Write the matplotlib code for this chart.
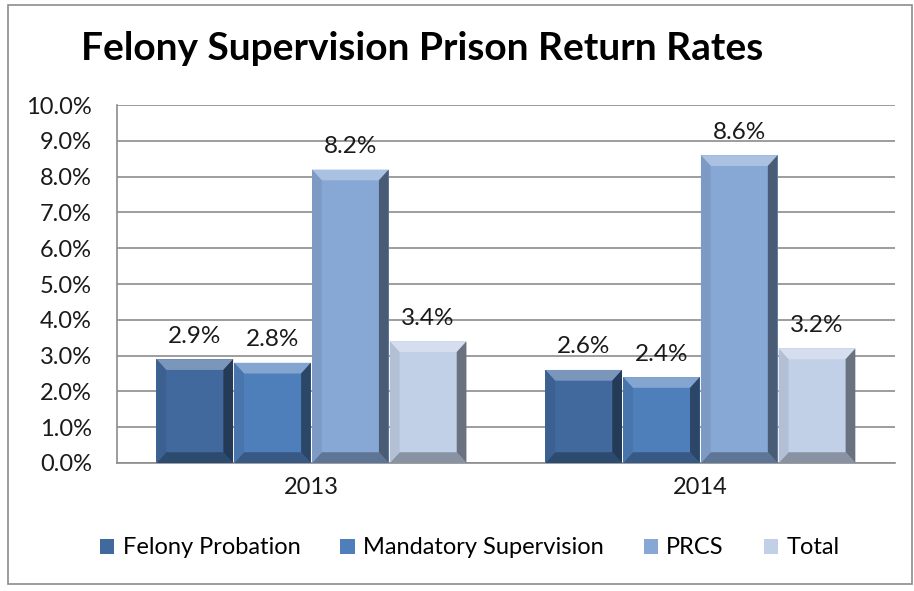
import numpy as np
import matplotlib
matplotlib.use("Agg")
import matplotlib.pyplot as plt
from matplotlib.patches import Polygon, Rectangle
from matplotlib.ticker import PercentFormatter

# ------------------------------------------------------------------
# Data
# ------------------------------------------------------------------
years = ["2013", "2014"]
series = ["Felony Probation", "Mandatory Supervision", "PRCS", "Total"]
felony_probation = [2.9, 2.6]
mandatory_supervision = [2.8, 2.4]
prcs = [8.2, 8.6]
total = [3.4, 3.2]
values = [felony_probation, mandatory_supervision, prcs, total]

colors = ["#41699E", "#4E7FBB", "#87A7D5", "#C2D0E7"]

plt.rcParams["font.family"] = ["Lato", "DejaVu Sans"]


def _shade(c, f):
    rgb = np.array(matplotlib.colors.to_rgb(c))
    if f > 0:
        rgb = rgb + (1 - rgb) * f
    else:
        rgb = rgb * (1 + f)
    return tuple(np.clip(rgb, 0, 1))


def _bevel(ax, rect, color, bx=0.025, by=0.3):
    """Draw a simple bevel on a bar rectangle (data coordinates)."""
    x0, y0 = rect.get_x(), rect.get_y()
    x1, y1 = x0 + rect.get_width(), y0 + rect.get_height()
    ix0, ix1, iy0, iy1 = x0 + bx, x1 - bx, y0 + by, y1 - by
    faces = [
        ([(x0, y1), (x1, y1), (ix1, iy1), (ix0, iy1)], _shade(color, 0.3)),
        ([(x0, y0), (x1, y0), (ix1, iy0), (ix0, iy0)], _shade(color, -0.3)),
        ([(x0, y0), (x0, y1), (ix0, iy1), (ix0, iy0)], _shade(color, -0.08)),
        ([(x1, y0), (x1, y1), (ix1, iy1), (ix1, iy0)], _shade(color, -0.45)),
    ]
    for pts, fc in faces:
        ax.add_patch(Polygon(pts, closed=True, facecolor=fc, edgecolor="none", zorder=3))


fig = plt.figure(figsize=(9.14, 5.91), dpi=100)
ax = fig.add_axes([0.128, 0.2166, 0.851, 0.6055])

x = np.arange(len(years))
width = 0.2
offsets = (np.arange(len(series)) - 1.5) * width

for vals, off, col, name in zip(values, offsets, colors, series):
    bars = ax.bar(x + off, vals, width * 0.985, color=col, label=name, zorder=2)
    for rect, v in zip(bars, vals):
        _bevel(ax, rect, col)
        ax.text(rect.get_x() + rect.get_width() / 2, v + 0.35, f"{v:.1f}%",
                ha="center", va="bottom", fontsize=17.5, color="#1a1a1a")

ax.set_xlim(-0.5, 1.5)
ax.set_ylim(0, 10)
ax.set_yticks(np.arange(0, 10.5, 1))
ax.yaxis.set_major_formatter(PercentFormatter(decimals=1))
ax.set_xticks(x)
ax.set_xticklabels(years)
ax.tick_params(axis="both", length=0, labelsize=17, colors="#1a1a1a")
ax.tick_params(axis="y", pad=18)
ax.tick_params(axis="x", pad=10)
ax.grid(axis="y", color="#8c8c8c", linewidth=1.2, zorder=0)
ax.set_axisbelow(True)
for side in ["top", "right"]:
    ax.spines[side].set_visible(False)
for side in ["left", "bottom"]:
    ax.spines[side].set_color("#8c8c8c")
    ax.spines[side].set_linewidth(1.2)

fig.text(0.462, 0.918, "Felony Supervision Prison Return Rates",
         ha="center", va="center", fontsize=28, fontweight="bold", color="#000000")

leg = fig.legend(loc="center", bbox_to_anchor=(0.514, 0.073), ncol=4, frameon=False,
                 fontsize=17, handlelength=0.6, handleheight=0.6,
                 handletextpad=0.35, columnspacing=1.7)

# chart frame
fig.patches.append(Rectangle((0.009, 0.012), 0.989, 0.979, transform=fig.transFigure,
                             fill=False, edgecolor="#8c8c8c", linewidth=1.2))

fig.savefig("out.png", dpi=100)
